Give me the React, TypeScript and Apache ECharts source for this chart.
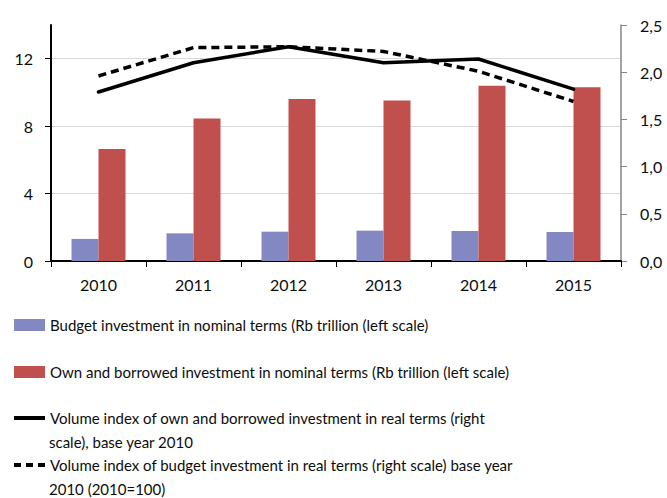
import React, { useEffect, useRef } from "react";
import * as echarts from "echarts";

const categories = ["2010", "2011", "2012", "2013", "2014", "2015"];
const budgetNominal = [1.31, 1.64, 1.74, 1.8, 1.78, 1.72];
const ownBorrowedNominal = [6.64, 8.46, 9.61, 9.52, 10.4, 10.3];
const ownBorrowedIndex = [1.79, 2.1, 2.27, 2.1, 2.14, 1.82];
const budgetIndex = [1.96, 2.26, 2.27, 2.22, 2.01, 1.69];

const leftTicks = { min: 0, max: 14, interval: 4 };
const rightTicks = { min: 0, max: 2.5, interval: 0.5 };

const nameBudget = "Budget investment in nominal terms (Rb trillion (left scale)";
const nameOwn = "Own and borrowed investment in nominal terms (Rb trillion (left scale)";
const nameOwnIdx =
  "Volume index of own and borrowed investment in real terms (right scale), base year 2010";
const nameBudgetIdx =
  "Volume index of budget investment in real terms (right scale) base year 2010 (2010=100)";

const firstLines: Record<string, string> = {
  [nameBudget]: nameBudget,
  [nameOwn]: nameOwn,
  [nameOwnIdx]: "Volume index of own and borrowed investment in real terms (right",
  [nameBudgetIdx]: "Volume index of budget investment in real terms (right scale) base year",
};
const secondLines = ["scale), base year 2010", "2010 (2010=100)"];

const FONT = "Lato";
const TXT = "#0d0d0d";

export default function App() {
  const ref = useRef<HTMLDivElement>(null);
  useEffect(() => {
    if (!ref.current) return;
    const chart = echarts.init(ref.current, null, { renderer: "svg" });
    const legendText = { fontSize: 15, color: TXT, lineHeight: 16, fontFamily: FONT };
    chart.setOption({
      animation: false,
      textStyle: { fontFamily: FONT },
      grid: { left: 51, right: 46, top: 25, bottom: 237, containLabel: false },
      xAxis: {
        type: "category",
        data: categories,
        axisLine: { lineStyle: { color: "#000", width: 2 } },
        axisTick: { show: true, length: 6, lineStyle: { color: "#000", width: 1 } },
        axisLabel: { color: TXT, fontSize: 16, margin: 15, fontFamily: FONT },
      },
      yAxis: [
        {
          type: "value",
          min: leftTicks.min,
          max: leftTicks.max,
          interval: leftTicks.interval,
          axisLine: { show: true, lineStyle: { color: "#000", width: 2 } },
          axisTick: { show: true, length: 6, lineStyle: { color: "#000" } },
          axisLabel: { color: TXT, fontSize: 16, margin: 18, showMaxLabel: false, fontFamily: FONT },
          splitLine: { show: true, showMaxLine: false, lineStyle: { color: "#d9d9d9", width: 1 } },
        },
        {
          type: "value",
          position: "right",
          min: rightTicks.min,
          max: rightTicks.max,
          interval: rightTicks.interval,
          axisLine: { show: true, lineStyle: { color: "#868686", width: 1.5 } },
          axisTick: { show: true, length: 6, lineStyle: { color: "#868686" } },
          axisLabel: {
            color: TXT,
            fontSize: 16,
            margin: 19,
            fontFamily: FONT,
            formatter: (v: number) => v.toFixed(1).replace(".", ","),
          },
          splitLine: { show: false },
        },
      ],
      legend: [
        {
          orient: "vertical",
          left: 14,
          top: 317,
          padding: 0,
          itemWidth: 31,
          itemHeight: 12,
          itemGap: 31,
          selectedMode: false,
          textStyle: legendText,
          formatter: (name: string) => firstLines[name] ?? name,
          data: [
            { name: nameBudget, icon: "rect" },
            { name: nameOwn, icon: "rect" },
          ],
        },
        {
          orient: "vertical",
          left: 14,
          top: 410,
          padding: 0,
          itemWidth: 31,
          itemHeight: 4,
          itemGap: 31,
          selectedMode: false,
          textStyle: legendText,
          formatter: (name: string) => firstLines[name] ?? name,
          data: [
            { name: nameOwnIdx, icon: "rect" },
            {
              name: nameBudgetIdx,
              icon: "path://M0,0h7v4h-7z M12,0h7v4h-7z M24,0h7v4h-7z",
            },
          ],
        },
      ],
      graphic: [
        {
          type: "text",
          left: 49,
          top: 434,
          style: { text: secondLines[0], fontSize: 15, fill: TXT, fontFamily: FONT },
        },
        {
          type: "text",
          left: 49,
          top: 481,
          style: { text: secondLines[1], fontSize: 15, fill: TXT, fontFamily: FONT },
        },
      ],
      series: [
        {
          name: nameBudget,
          type: "bar",
          data: budgetNominal,
          barWidth: 27,
          barGap: "0%",
          itemStyle: { color: "#8488c2" },
        },
        {
          name: nameOwn,
          type: "bar",
          data: ownBorrowedNominal,
          barWidth: 27,
          barGap: "0%",
          itemStyle: { color: "#c0504d" },
        },
        {
          name: nameOwnIdx,
          type: "line",
          yAxisIndex: 1,
          data: ownBorrowedIndex,
          symbol: "none",
          lineStyle: { color: "#000", width: 3.5, cap: "round" },
          itemStyle: { color: "#000" },
        },
        {
          name: nameBudgetIdx,
          type: "line",
          yAxisIndex: 1,
          data: budgetIndex,
          symbol: "none",
          lineStyle: { color: "#000", width: 3.5, type: [8, 5] },
          itemStyle: { color: "#000" },
        },
      ],
    });
    return () => chart.dispose();
  }, []);
  return (
    <div
      ref={ref}
      style={{ position: "fixed", left: 0, top: 0, width: 667, height: 498, background: "#fff" }}
    />
  );
}
